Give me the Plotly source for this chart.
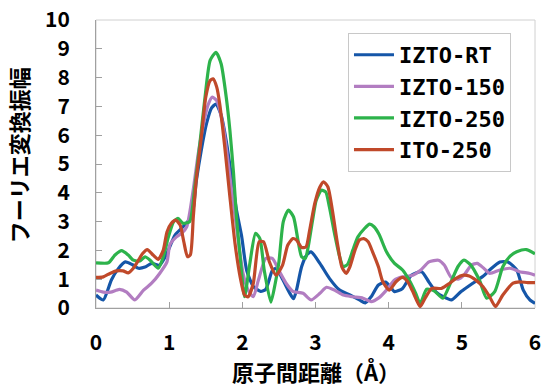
import plotly.graph_objects as go

# ---- data ----
rt_x = [0.0, 0.1, 0.21, 0.3, 0.4, 0.5, 0.58, 0.67, 0.76, 0.87, 0.97, 1.08, 1.19, 1.31, 1.37, 1.44,
        1.51, 1.58, 1.64, 1.71, 1.78, 1.85, 1.92, 1.99, 2.06, 2.15, 2.25, 2.32, 2.41, 2.46, 2.55,
        2.64, 2.7, 2.74, 2.81, 2.88, 2.94, 3.06, 3.19, 3.33, 3.47, 3.6, 3.68, 3.76, 3.86, 3.96,
        4.08, 4.19, 4.31, 4.45, 4.55, 4.65, 4.74, 4.86, 4.99, 5.15, 5.29, 5.38, 5.52, 5.63, 5.75,
        5.84, 5.93, 6.0]
rt_y = [0.45, 0.28, 0.97, 1.35, 1.6, 1.5, 1.38, 1.42, 1.55, 1.49, 1.9, 2.53, 2.82, 3.2, 4.4, 5.5,
        6.4, 6.95, 7.08, 6.7, 5.8, 4.6, 3.4, 2.5, 1.3, 0.75, 0.58, 0.65, 1.3, 1.38, 1.0,
        0.55, 0.32, 0.62, 1.43, 1.84, 1.95, 1.55, 1.03, 0.62, 0.45, 0.28, 0.18, 0.39, 0.8, 0.9,
        0.57, 0.68, 1.14, 1.26, 0.9, 0.55, 0.4, 0.28, 0.57, 0.86, 1.1, 1.32, 1.6, 1.6, 1.32,
        0.62, 0.28, 0.16]

i150_x = [0.0, 0.1, 0.2, 0.32, 0.42, 0.53, 0.65, 0.76, 0.87, 0.97, 1.01, 1.1, 1.17, 1.24, 1.28,
          1.34, 1.4, 1.47, 1.53, 1.59, 1.65, 1.74, 1.83, 1.92, 2.01, 2.08, 2.15, 2.22, 2.32,
          2.41, 2.5, 2.6, 2.69, 2.83, 2.94, 3.06, 3.15, 3.26, 3.38, 3.51, 3.65, 3.76, 3.87,
          3.97, 4.08, 4.19, 4.33, 4.44, 4.55, 4.68, 4.76, 4.85, 4.95, 5.03, 5.13, 5.21, 5.3,
          5.38, 5.52, 5.66, 5.79, 5.93, 6.0]
i150_y = [0.62, 0.55, 0.55, 0.65, 0.55, 0.28, 0.62, 0.86, 1.2, 1.6, 2.2, 2.47, 2.59, 2.82, 3.3,
          4.3, 5.4, 6.4, 7.04, 7.32, 7.2, 6.28, 4.55, 2.82, 1.2, 0.62, 0.39, 0.97, 1.72,
          1.72, 1.3, 0.85, 0.58, 0.51, 0.28, 0.51, 0.72, 0.62, 0.45, 0.39, 0.34, 0.22, 0.36,
          0.62, 0.97, 1.08, 1.14, 1.32, 1.6, 1.66, 1.49, 1.08, 1.0, 1.14, 1.49, 1.55, 1.38,
          1.2, 1.32, 1.38, 1.26, 1.2, 1.14]

i250_x = [0.0, 0.17, 0.26, 0.35, 0.44, 0.51, 0.6, 0.67, 0.74, 0.85, 0.92, 0.99, 1.06, 1.12, 1.19,
          1.28, 1.35, 1.42, 1.49, 1.56, 1.64, 1.71, 1.78, 1.83, 1.88, 1.92, 1.97, 2.03, 2.1,
          2.18, 2.24, 2.3, 2.39, 2.45, 2.5, 2.56, 2.63, 2.7, 2.76, 2.81, 2.86, 2.9, 2.96, 3.01,
          3.08, 3.14, 3.19, 3.26, 3.33, 3.38, 3.44, 3.51, 3.58, 3.67, 3.74, 3.8, 3.87, 3.97,
          4.08, 4.19, 4.28, 4.37, 4.43, 4.52, 4.62, 4.74, 4.85, 4.95, 5.03, 5.12, 5.24, 5.34,
          5.45, 5.56, 5.66, 5.75, 5.88, 6.0]
i250_y = [1.57, 1.57, 1.84, 1.99, 1.84, 1.66, 1.63, 1.78, 1.66, 1.38, 1.78, 2.47, 2.99, 3.11, 2.94,
          3.0, 4.2, 5.71, 7.32, 8.6, 8.88, 8.48, 7.32, 6.17, 4.67, 3.16, 1.78, 0.39, 1.5,
          2.59, 2.41, 1.3, 0.2, 0.86, 1.6, 3.0, 3.4, 3.16, 2.36, 1.78, 1.72, 2.12, 3.05, 3.74,
          4.09, 4.03, 3.51, 2.59, 1.78, 1.43, 1.52, 2.01, 2.47, 2.76, 2.91, 2.82, 2.55, 1.95,
          1.55, 1.32, 0.97, 0.51, 0.16, 0.65, 0.6, 0.34, 0.9, 1.45, 1.66, 1.5, 0.97, 0.34,
          0.57, 1.43, 1.8, 1.95, 2.03, 1.88]

ito_x = [0.0, 0.1, 0.19, 0.28, 0.37, 0.44, 0.51, 0.58, 0.64, 0.7, 0.78, 0.85, 0.92, 0.97, 1.03,
         1.09, 1.15, 1.2, 1.25, 1.29, 1.33, 1.37, 1.44, 1.5, 1.56, 1.6, 1.65, 1.69, 1.76, 1.83,
         1.9, 1.97, 2.03, 2.08, 2.15, 2.23, 2.29, 2.37, 2.46, 2.55, 2.62, 2.69, 2.74, 2.81,
         2.87, 2.92, 2.99, 3.06, 3.11, 3.17, 3.23, 3.3, 3.36, 3.42, 3.47, 3.54, 3.6, 3.66,
         3.72, 3.78, 3.86, 3.92, 4.01, 4.1, 4.19, 4.26, 4.33, 4.43, 4.5, 4.59, 4.72, 4.83,
         4.92, 5.02, 5.1, 5.2, 5.29, 5.38, 5.46, 5.56, 5.7, 5.79, 5.9, 6.0]
ito_y = [1.06, 1.08, 1.2, 1.29, 1.29, 1.22, 1.38, 1.66, 1.9, 2.03, 1.84, 1.69, 2.01, 2.64, 2.94,
         3.05, 2.88, 2.3, 1.78, 1.85, 3.16, 4.44, 5.94, 7.32, 7.9, 7.96, 7.67, 7.1, 5.59, 3.86,
         2.24, 1.08, 0.45, 0.39, 0.86, 2.3, 2.3, 1.6, 1.14, 1.49, 2.18, 2.41, 2.36, 2.1,
         2.12, 2.7, 3.63, 4.2, 4.38, 4.2, 3.4, 2.24, 1.43, 1.2, 1.43, 2.01, 2.36, 2.41,
         2.3, 1.95, 1.43, 0.91, 0.62, 0.91, 1.06, 0.91, 0.57, 0.05, 0.35, 0.68, 0.68, 0.85,
         1.03, 1.14, 1.11, 0.95, 0.74, 0.39, 0.05, 0.45, 0.86, 0.91, 0.88, 0.88]

series_names = ["IZTO-RT", "IZTO-150", "IZTO-250", "ITO-250"]
series_x = [rt_x, i150_x, i250_x, ito_x]
series_y = [rt_y, i150_y, i250_y, ito_y]
colors = ["#1556A8", "#B27DC1", "#2DB34B", "#C0492A"]

x_ticks = [0, 1, 2, 3, 4, 5, 6]
y_ticks = [0, 1, 2, 3, 4, 5, 6, 7, 8, 9, 10]
x_title = "原子間距離（Å）"
y_title = "フーリエ変換振幅"

JP = "Noto Sans CJK JP"

fig = go.Figure()
for name, xs, ys, c in zip(series_names, series_x, series_y, colors):
    fig.add_trace(go.Scatter(x=xs, y=ys, name=name, mode="lines",
                             line=dict(color=c, width=3.2, shape="spline", smoothing=0.6)))

axis_common = dict(showgrid=False, zeroline=False, showline=True, linecolor="#A0A0A0",
                   linewidth=1, ticks="inside", ticklen=6, tickcolor="#A0A0A0",
                   automargin=False,
                   tickfont=dict(family=JP, size=21, color="#000", weight="bold"))

fig.update_layout(
    width=545, height=388,
    margin=dict(l=96, r=10, t=20, b=80),
    paper_bgcolor="white", plot_bgcolor="white",
    xaxis=dict(range=[0, 6], tickvals=x_ticks, ticklabelstandoff=16, **axis_common),
    yaxis=dict(range=[0, 10], tickvals=y_ticks, ticklabelstandoff=21, **axis_common),
    legend=dict(x=0.574, y=0.955, xanchor="left", yanchor="top",
                bgcolor="white", bordercolor="#C8C8C8", borderwidth=1,
                font=dict(family="DejaVu Sans Mono", size=22, color="#000", weight="bold"),
                itemwidth=40, tracegroupgap=0),
    showlegend=True,
)
fig.add_shape(type="rect", xref="paper", yref="paper", x0=0, y0=0, x1=1, y1=1,
              line=dict(color="#D0D0D0", width=1), layer="below")
fig.add_annotation(text=x_title, xref="paper", yref="paper", x=0.5, y=0, yshift=-63,
                   showarrow=False, xanchor="center", yanchor="middle",
                   font=dict(family=JP, size=22, color="#000", weight="bold"))
fig.add_annotation(text=y_title, xref="paper", yref="paper", x=0, xshift=-78, y=0.53,
                   showarrow=False, textangle=-90, xanchor="center", yanchor="middle",
                   font=dict(family=JP, size=22, color="#000", weight="bold"))

fig.write_html("out.html", config={"displayModeBar": False},
               post_script="document.body.style.margin='0';document.body.style.overflow='hidden';")
